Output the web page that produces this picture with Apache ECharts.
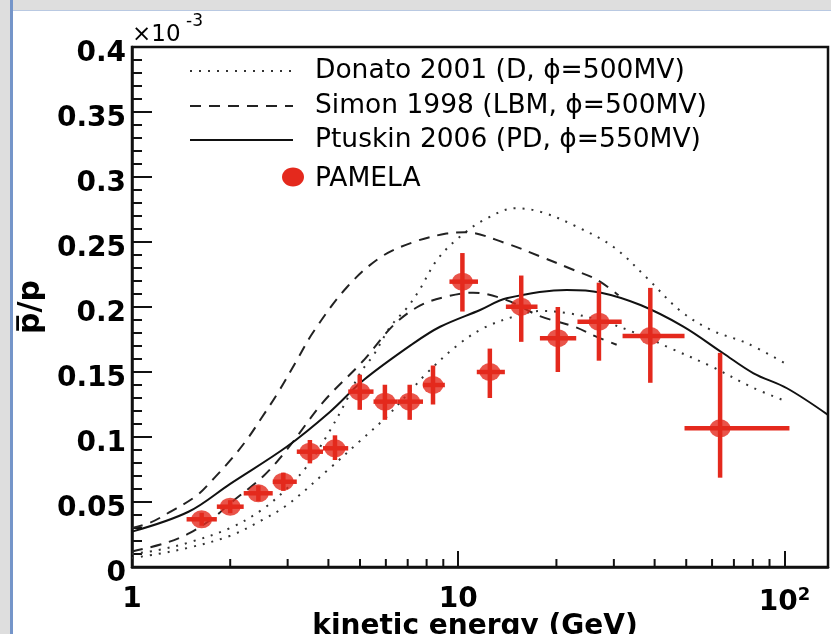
<!DOCTYPE html>
<html><head><meta charset="utf-8">
<script src="https://cdn.jsdelivr.net/npm/echarts@6/dist/echarts.min.js"></script>
<style>
html,body{margin:0;padding:0;background:#fff;}
#frameTop{position:absolute;left:0;top:0;width:831px;height:10px;background:#dedede;border-bottom:1px solid #b9c9e2;}
#frameLeft{position:absolute;left:0;top:0;width:10px;height:634px;background:#dedede;border-right:3px solid #7595c9;}
#chart{position:absolute;left:0;top:0;width:831px;height:634px;}
</style></head>
<body>
<div id="frameTop"></div><div id="frameLeft"></div>
<div id="chart"></div>
<script>
// ---------- data ----------
const xTickLabels = ['1', '10', '10²'];
const xMinorTicks = [2, 3, 4, 5, 6, 7, 8, 9, 20, 30, 40, 50, 60, 70, 80, 90];
const xTitle = 'kinetic energy (GeV)';
const legendNames = ['Donato 2001 (D, \u03d5=500MV)', 'Simon 1998 (LBM, \u03d5=500MV)', 'Ptuskin 2006 (PD, \u03d5=550MV)', 'PAMELA'];

// PAMELA antiproton/proton ratio (units of 1e-3)
const pamelaE    = [1.635, 2.0, 2.44, 2.91, 3.51, 4.19, 4.99, 5.96, 7.10, 8.37, 10.3, 12.5, 15.6, 20.2, 27.0, 38.8, 63.5];
const pamelaELow = [1.47, 1.82, 2.2, 2.7, 3.2, 3.85, 4.6, 5.5, 6.5, 7.8, 9.4, 11.4, 14.0, 17.8, 23.2, 31.9, 49.4];
const pamelaEHigh= [1.82, 2.2, 2.7, 3.2, 3.85, 4.6, 5.5, 6.5, 7.8, 9.1, 11.5, 13.9, 17.5, 23.0, 31.7, 49.4, 103.6];
const pamelaR    = [0.0367, 0.0464, 0.0567, 0.0656, 0.0887, 0.0913, 0.1349, 0.1272, 0.1272, 0.140, 0.2195, 0.150, 0.2002, 0.176, 0.1887, 0.1777, 0.1067];
const pamelaErrUp= [0.005, 0.005, 0.006, 0.007, 0.009, 0.010, 0.013, 0.013, 0.013, 0.015, 0.022, 0.018, 0.024, 0.024, 0.030, 0.037, 0.058];
const pamelaErrDn= [0.005, 0.005, 0.006, 0.007, 0.009, 0.009, 0.014, 0.014, 0.014, 0.015, 0.023, 0.020, 0.027, 0.026, 0.030, 0.036, 0.038];

// Donato 2001 (two dotted curves)
const donatoHiE = [1, 1.2, 1.5, 2, 2.5, 3, 3.5, 4, 4.5, 5, 5.5, 6.2, 7, 7.6, 8.6, 10, 12, 15, 18, 23, 30, 38, 48, 60, 77, 100];
const donatoHiV = [0.010, 0.013, 0.019, 0.030, 0.044, 0.061, 0.080, 0.103, 0.126, 0.149, 0.163, 0.185, 0.200, 0.213, 0.236, 0.253, 0.267, 0.276, 0.273, 0.262, 0.246, 0.222, 0.197, 0.182, 0.172, 0.157];
const donatoLoE = [1, 1.2, 1.5, 2, 2.5, 3, 4, 5, 6, 7, 8, 10, 12, 15, 18, 22, 27, 35, 45, 60, 80, 100];
const donatoLoV = [0.007, 0.010, 0.015, 0.024, 0.036, 0.048, 0.075, 0.097, 0.115, 0.133, 0.149, 0.171, 0.184, 0.193, 0.197, 0.195, 0.190, 0.180, 0.168, 0.154, 0.138, 0.128];

// Simon 1998 (two dashed curves)
const simonHiE = [1, 1.135, 1.3, 1.58, 1.78, 2.0, 2.25, 2.5, 2.8, 3.2, 3.6, 4.55, 5.76, 7.3, 9.2, 10.5, 14, 17.8, 22.6, 26.6, 31];
const simonHiV = [0.030, 0.034, 0.042, 0.055, 0.068, 0.082, 0.098, 0.115, 0.134, 0.159, 0.181, 0.215, 0.238, 0.250, 0.2565, 0.2575, 0.249, 0.239, 0.2285, 0.221, 0.209];
const simonLoE = [1, 1.25, 1.5, 1.78, 2.0, 2.53, 3.0, 3.86, 5.13, 6.33, 7.63, 9.2, 11.1, 14, 17.8, 22.6, 26.6, 30.6];
const simonLoV = [0.012, 0.018, 0.026, 0.038, 0.049, 0.070, 0.091, 0.127, 0.159, 0.186, 0.201, 0.208, 0.211, 0.2055, 0.193, 0.185, 0.177, 0.171];

// Ptuskin 2006 (solid)
const ptuskinE = [1, 1.49, 2.0, 2.98, 4.05, 5.13, 7.29, 8.8, 11.67, 14.07, 21.5, 27.2, 36.2, 49, 64.9, 80.4, 101.8, 136];
const ptuskinV = [0.0272, 0.0425, 0.064, 0.0925, 0.1195, 0.1438, 0.172, 0.1848, 0.1977, 0.2067, 0.2131, 0.2112, 0.2015, 0.1849, 0.1644, 0.149, 0.1375, 0.117];

// ---------- chart ----------
const X_MIN = 1, X_MAX = 136;
const zip = (a, b) => a.map((x, i) => [x, b[i]]);
const FONT = 'DejaVu Sans';
const chart = echarts.init(document.getElementById('chart'), null, {renderer: 'canvas'});

const errData = pamelaE.map((e, i) => [e, pamelaR[i], pamelaELow[i], pamelaEHigh[i], pamelaR[i] - pamelaErrDn[i], pamelaR[i] + pamelaErrUp[i]]);
const RED = '#e4291d';

function curve(name, E, V, type, color, width) {
  return {
    name: name, type: 'line', data: zip(E, V), showSymbol: false, smooth: 0.35,
    lineStyle: {color: color, width: width, type: type}, z: 3, silent: true, animation: false, clip: true
  };
}

const option = {
  animation: false,
  backgroundColor: 'transparent',
  grid: {left: 132, top: 47, right: 3, bottom: 67, outerBoundsMode: 'none', containLabel: false,
         show: true, borderColor: '#111', borderWidth: 2.5, backgroundColor: '#fff'},
  xAxis: {
    type: 'log', logBase: 10, min: X_MIN, max: X_MAX,
    axisLine: {show: true, onZero: false, lineStyle: {color: '#111', width: 2.5}},
    axisTick: {show: true, inside: true, length: 16, lineStyle: {color: '#111', width: 2}},
    minorTick: {show: false},
    splitLine: {show: false},
    axisLabel: {
      show: true, margin: 19, color: '#000', fontFamily: FONT, fontWeight: 'bold', fontSize: 28,
      formatter: function (v) { const k = Math.round(Math.log10(v)); return k === 2 ? '{b|10}{s|2}' : xTickLabels[k]; },
      rich: {b: {fontFamily: FONT, fontWeight: 'bold', fontSize: 28, color: '#000'}, s: {fontFamily: FONT, fontWeight: 'bold', fontSize: 18, color: '#000', verticalAlign: 'top', padding: [0, 0, 16, 0]}}
    }
  },
  yAxis: {
    type: 'value', min: 0, max: 0.4, interval: 0.05,
    axisLine: {show: true, lineStyle: {color: '#111', width: 2.5}},
    axisTick: {show: true, inside: true, length: 20, lineStyle: {color: '#111', width: 2}},
    minorTick: {show: true, splitNumber: 5, length: 10, lineStyle: {color: '#111', width: 2}},
    splitLine: {show: false},
    axisLabel: {show: true, margin: 6,
      formatter: function (v) { return '{a|' + String(parseFloat(v.toFixed(2))) + '}'; },
      rich: {a: {color: '#000', fontFamily: FONT, fontWeight: 'bold', fontSize: 28, padding: [14, 0, 0, 0]}}
    },
    name: 'p\u0305/p', nameLocation: 'middle', nameGap: 76, nameRotate: 90,
    nameTextStyle: {fontFamily: FONT, fontWeight: 'bold', fontSize: 30, color: '#000'}
  },
  series: [
    curve(legendNames[0], donatoHiE, donatoHiV, [2, 7], '#333', 2),
    curve(legendNames[0], donatoLoE, donatoLoV, [2, 7], '#333', 2),
    curve(legendNames[1], simonHiE, simonHiV, [11, 8], '#222', 2),
    curve(legendNames[1], simonLoE, simonLoV, [11, 8], '#222', 2),
    curve(legendNames[2], ptuskinE, ptuskinV, 'solid', '#111', 2),
    {
      // minor decade ticks (2..9 x 10^n) on the log axis
      name: 'minor ticks', type: 'custom', data: xMinorTicks.map(v => [v, 0]), z: 4, silent: true, clip: false,
      renderItem: function (params, api) {
        const p = api.coord([api.value(0), 0]);
        return {type: 'line', shape: {x1: p[0], y1: p[1], x2: p[0], y2: p[1] - 8}, style: {stroke: '#111', lineWidth: 2}};
      }
    },
    {
      name: 'PAMELA errors', type: 'custom', data: errData, z: 5, silent: true,
      renderItem: function (params, api) {
        const c = api.coord([api.value(0), api.value(1)]);
        const xl = api.coord([api.value(2), api.value(1)]);
        const xh = api.coord([api.value(3), api.value(1)]);
        const yl = api.coord([api.value(0), api.value(4)]);
        const yh = api.coord([api.value(0), api.value(5)]);
        const st = {stroke: RED, lineWidth: 4.5, fill: null};
        return {type: 'group', children: [
          {type: 'line', shape: {x1: xl[0], y1: c[1], x2: xh[0], y2: c[1]}, style: st},
          {type: 'line', shape: {x1: c[0], y1: yl[1], x2: c[0], y2: yh[1]}, style: st}
        ]};
      }
    },
    {
      name: legendNames[3], type: 'scatter', data: zip(pamelaE, pamelaR), symbol: 'circle', symbolSize: [21, 18],
      itemStyle: {color: RED}, z: 6, silent: true
    }
  ],
  graphic: [
    {type: 'text', left: 132, top: 24, style: {text: '\u00d710', font: '23px "DejaVu Sans"', fill: '#000'}, z: 10},
    {type: 'text', left: 186, top: 13, style: {text: '-3', font: '17px "DejaVu Sans"', fill: '#000'}, z: 10},
    {type: 'text', x: 475, y: 627, style: {text: xTitle, font: 'bold 28px "DejaVu Sans"', fill: '#000', align: 'center', verticalAlign: 'middle'}, z: 10},
    // legend
    {type: 'line', shape: {x1: 190, y1: 71, x2: 293, y2: 71}, style: {stroke: '#333', lineWidth: 2, lineDash: [2, 7]}, z: 10},
    {type: 'line', shape: {x1: 190, y1: 106, x2: 293, y2: 106}, style: {stroke: '#222', lineWidth: 2, lineDash: [11, 8]}, z: 10},
    {type: 'line', shape: {x1: 190, y1: 140, x2: 293, y2: 140}, style: {stroke: '#111', lineWidth: 2}, z: 10},
    {type: 'ellipse', shape: {cx: 293, cy: 177, rx: 11, ry: 9.5}, style: {fill: RED}, z: 10},
    {type: 'text', x: 315, y: 71, style: {text: legendNames[0], font: '26.5px "DejaVu Sans"', fill: '#000', verticalAlign: 'middle'}, z: 10},
    {type: 'text', x: 315, y: 106, style: {text: legendNames[1], font: '26.5px "DejaVu Sans"', fill: '#000', verticalAlign: 'middle'}, z: 10},
    {type: 'text', x: 315, y: 140, style: {text: legendNames[2], font: '26.5px "DejaVu Sans"', fill: '#000', verticalAlign: 'middle'}, z: 10},
    {type: 'text', x: 315, y: 179, style: {text: legendNames[3], font: '26.5px "DejaVu Sans"', fill: '#000', verticalAlign: 'middle'}, z: 10}
  ]
};
chart.setOption(option);
</script>
</body></html>
